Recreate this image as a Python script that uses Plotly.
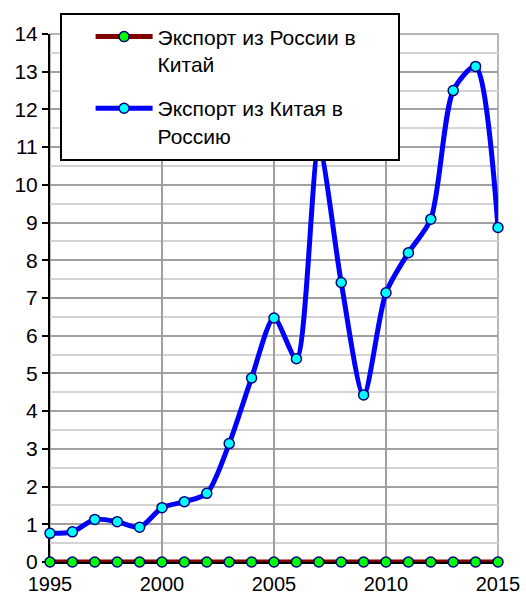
import plotly.graph_objects as go

years = list(range(1995, 2016))
russia_to_china = [0] * 21
china_to_russia = [0.76, 0.80, 1.13, 1.07, 0.92, 1.44, 1.60, 1.82, 3.14, 4.88,
                   6.47, 5.39, 11.0, 7.41, 4.43, 7.14, 8.20, 9.09, 12.50, 13.14, 8.87]
names = ["Экспорт из России в<br>Китай", "Экспорт из Китая в<br>Россию"]

FONT = "Liberation Sans, Arial, sans-serif"

fig = go.Figure()
fig.add_trace(go.Scatter(
    x=years, y=russia_to_china, name=names[0], mode="lines+markers",
    legendgroup="a",
    line=dict(color="#800000", width=5),
    marker=dict(color="#00ff00", size=10, line=dict(color="#000080", width=1.5)),
    cliponaxis=False))
fig.add_trace(go.Scatter(
    x=years, y=china_to_russia, name=names[1], mode="lines+markers",
    legendgroup="b",
    line=dict(color="#0000ff", width=5, shape="spline", smoothing=0.75),
    marker=dict(color="#00ffff", size=10, line=dict(color="#000080", width=1.5)),
    cliponaxis=False))

fig.update_layout(
    width=526, height=596,
    margin=dict(l=50, r=28, t=34, b=34, autoexpand=False),
    paper_bgcolor="white", plot_bgcolor="white",
    font=dict(family=FONT, size=21, color="black"),
    showlegend=True,
    legend=dict(x=0.0906, y=1.0332, xanchor="left", yanchor="top",
                bgcolor="rgba(0,0,0,0)", borderwidth=0,
                font=dict(family=FONT, size=21, color="black"),
                itemwidth=57, valign="top", tracegroupgap=14,
                traceorder="grouped"),
    shapes=[
        dict(type="rect", xref="paper", yref="paper", x0=0, x1=1, y0=0, y1=1,
             line=dict(color="#a0a0a0", width=1.5), layer="below"),
        dict(type="rect", xref="paper", yref="paper",
             x0=11 / 448, x1=349 / 448, y0=402 / 528, y1=548 / 528,
             fillcolor="white", line=dict(color="black", width=2), layer="above"),
    ],
)
fig.update_xaxes(range=[1995, 2015], tick0=1995, dtick=5, showgrid=True,
                 gridcolor="#a0a0a0", gridwidth=1.5, showline=True,
                 linecolor="black", linewidth=2, ticks="outside", ticklen=3,
                 tickcolor="black", tickwidth=1.5, zeroline=False,
                 tickfont=dict(size=20), layer="below traces")
fig.update_yaxes(range=[0, 14], dtick=1, showgrid=True, gridcolor="#a0a0a0",
                 gridwidth=1.5, showline=True, linecolor="black", linewidth=2,
                 ticks="outside", ticklen=6, tickcolor="black", tickwidth=1.5,
                 zeroline=False, tickfont=dict(size=21), layer="below traces",
                 minor=dict(dtick=0.5, showgrid=True, gridcolor="#d4d4d4",
                            gridwidth=1.5))

fig.write_html("out.html",
               config={"displayModeBar": False},
               post_script="document.body.style.margin='0';document.body.style.overflow='hidden';")
